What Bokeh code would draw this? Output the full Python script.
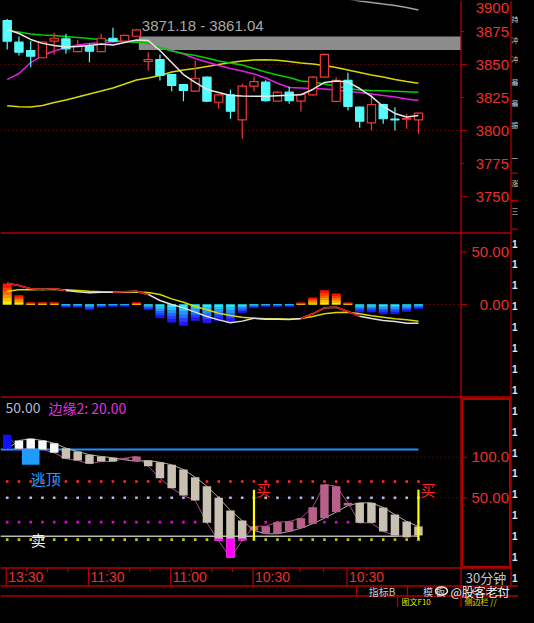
from bokeh.plotting import figure
from bokeh.models import Range1d, GlobalInlineStyleSheet
from bokeh.core.properties import value
from bokeh.embed import file_html
from bokeh.resources import INLINE

# ---------------- data ----------------
bar_open = [3883.3, 3866.9, 3860.6, 3855.1, 3867.7, 3869.5, 3859.8, 3863.9, 3859.8, 3869.9,
            3867.7, 3871.4, 3852.3, 3853.8, 3842.4, 3834.8, 3829.8, 3840.4, 3821.4, 3827.0,
            3808.1, 3833.6, 3836.6, 3822.2, 3829.0, 3822.2, 3827.0, 3840.4, 3822.0, 3837.9,
            3817.7, 3805.8, 3819.7, 3808.6, 3808.6, 3808.1]
bar_close = [3867.7, 3859.3, 3856.3, 3866.9, 3869.9, 3861.9, 3863.9, 3860.1, 3869.9, 3867.7,
             3872.0, 3876.3, 3853.8, 3841.7, 3834.1, 3830.3, 3839.6, 3822.2, 3827.0, 3814.6,
             3833.6, 3837.1, 3822.7, 3829.0, 3822.7, 3827.3, 3840.4, 3857.6, 3837.9, 3818.2,
             3807.0, 3819.7, 3808.9, 3808.1, 3809.2, 3813.1]
bar_high = [3884.5, 3871.2, 3867.7, 3867.3, 3874.0, 3873.3, 3868.7, 3865.7, 3873.3, 3877.8,
            3872.5, 3876.8, 3859.3, 3857.6, 3843.0, 3835.3, 3853.0, 3841.0, 3827.6, 3831.0,
            3835.4, 3840.9, 3838.0, 3829.5, 3833.3, 3827.8, 3841.0, 3858.2, 3840.4, 3843.7,
            3818.2, 3827.3, 3820.2, 3817.7, 3812.7, 3813.6]
bar_low = [3861.4, 3856.8, 3848.0, 3854.5, 3857.6, 3858.1, 3859.5, 3851.7, 3859.5, 3866.9,
           3867.3, 3871.0, 3845.5, 3837.9, 3829.8, 3822.2, 3829.3, 3821.5, 3816.4, 3808.9,
           3793.7, 3829.5, 3821.8, 3821.5, 3820.2, 3814.4, 3826.5, 3840.0, 3821.4, 3815.2,
           3802.0, 3800.0, 3805.1, 3800.0, 3801.3, 3797.5]

ma_white = [3876.5, 3873.5, 3869.0, 3866.0, 3864.4, 3863.3, 3863.6, 3864.4, 3865.5, 3864.8,
            3866.7, 3868.6, 3868.2, 3860.6, 3851.5, 3842.4, 3836.4, 3831.1, 3828.8, 3826.5,
            3826.1, 3826.0, 3826.0, 3826.4, 3826.7, 3827.1, 3831.1, 3836.4, 3837.5, 3836.7,
            3831.8, 3825.8, 3818.2, 3812.9, 3810.2, 3811.4]
ma_green = [3875.8, 3874.6, 3873.1, 3872.3, 3872.0, 3871.2, 3870.5, 3869.7, 3868.7, 3868.0,
            3867.4, 3866.9, 3866.4, 3862.9, 3860.2, 3858.3, 3856.8, 3854.9, 3852.7, 3851.1,
            3849.6, 3847.0, 3844.3, 3842.0, 3840.2, 3837.5, 3836.7, 3835.2, 3833.7, 3831.8,
            3830.7, 3830.3, 3830.1, 3829.8, 3829.4, 3829.0]
ma_magenta = [3838.6, 3843.2, 3851.5, 3856.8, 3860.2, 3862.9, 3864.8, 3865.9, 3866.5, 3867.3,
              3867.6, 3867.4, 3865.9, 3862.9, 3860.6, 3858.0, 3854.5, 3851.9, 3849.2, 3847.0,
              3845.1, 3842.8, 3839.8, 3835.8, 3832.6, 3832.2, 3831.8, 3831.4, 3830.7, 3829.5,
              3828.8, 3827.7, 3826.5, 3825.4, 3823.9, 3822.7]
ma_yellow = [3818.7, 3818.0, 3817.8, 3818.9, 3821.2, 3823.1, 3825.4, 3827.7, 3829.9, 3832.2,
             3835.2, 3838.3, 3839.8, 3841.7, 3844.3, 3845.8, 3847.0, 3848.5, 3850.0, 3851.5,
             3852.7, 3853.4, 3853.6, 3853.2, 3852.3, 3851.1, 3850.4, 3849.2, 3847.7, 3845.8,
             3843.9, 3842.0, 3840.5, 3838.6, 3837.1, 3835.8]
ma_gray_idx = [28, 29, 30, 31, 32, 33, 34, 35]
ma_gray = [3901.0, 3899.6, 3898.1, 3897.0, 3895.8, 3894.7, 3893.2, 3891.3]

zone_start = 11.2
zone_top = 3871.18
zone_bottom = 3861.04
zone_label = "3871.18 - 3861.04"

price_ticks = [3900, 3875, 3850, 3825, 3800, 3775, 3750]
price_tick_labels = ["3900", "3875", "3850", "3825", "3800", "3775", "3750"]
price_grid = [3850, 3800]

macd_hist = [19.8, 8.6, 1.6, 1.6, 1.6, -2.6, -2.6, -5.1, -2.6, -1.9, -1.6, 1.6, -5.1, -12.7,
             -16.9, -20.1, -15.3, -17.5, -15.3, -16.3, -8.0, -3.2, -1.9, -1.9, -1.9, 1.5, 6.4,
             13.4, 10.2, 1.5, -7.3, -7.3, -8.9, -8.9, -6.7, -4.1]
macd_dif = [20.4, 18.2, 15.0, 14.3, 15.0, 13.4, 12.1, 11.2, 11.8, 11.8, 12.1, 12.7, 9.6, 3.8,
            0.0, -3.2, -7.3, -11.5, -14.7, -17.5, -15.9, -13.1, -14.0, -14.0, -14.3, -13.4,
            -8.9, -3.2, -2.6, -6.7, -11.2, -13.4, -15.3, -16.3, -17.9, -17.9]
macd_dea = [12.7, 14.0, 14.0, 14.3, 14.3, 14.0, 13.4, 12.7, 12.1, 11.8, 11.8, 11.8, 11.5, 9.6,
            5.4, 2.2, -1.9, -5.1, -8.3, -10.5, -12.1, -13.1, -13.7, -13.7, -14.0, -13.4,
            -11.5, -8.9, -7.6, -7.3, -8.9, -10.8, -12.1, -13.7, -14.6, -15.9]
macd_ticks = [50, 0]
macd_tick_labels = ["50.00", "0.00"]

ind_open = [110.3, 120.6, 122.7, 120.6, 117.2, 111.1, 107.0, 103.0, 100.9, 99.3, 96.8, 95.1,
            95.9, 93.8, 90.6, 84.9, 75.4, 64.3, 50.0, 34.4, 22.0, 9.8, 5.7, 5.7, 8.5, 12.6,
            18.0, 24.9, 32.3, 40.5, 43.8, 43.8, 38.0, 29.4, 20.8, 14.7]
ind_close = [127.6, 110.3, 110.3, 109.5, 105.4, 98.0, 96.0, 91.9, 94.7, 94.7, 98.8, 100.9,
             88.9, 74.1, 61.8, 52.8, 46.7, 19.2, -3.0, -23.9, -2.5, 15.0, 15.0, 20.0, 20.8,
             24.9, 38.4, 66.4, 64.3, 43.8, 19.2, 19.2, 8.5, 3.6, 1.5, 3.6]
ind_line_level = 109.5
ind_base_level = 2.5
ind_ticks = [100, 50]
ind_tick_labels = ["100.0", "50.00"]
ind_dotted_levels = [100, 50]
ind_dot_levels = [70, 50, 20, -1.5]
ind_title_values = ["50.00", "边缘2: 20.00"]
buy_idx = [21, 35]
buy_range = [-1.5, 60.0]
sell_idx = [2]
sell_level = -1.5
escape_idx = [2]
escape_range = [90.6, 110.3]

time_tick_idx = [0, 7, 14, 21, 29]
time_labels = ["13:30", "11:30", "11:00", "10:30", "10:30"]
time_minor_idx = [1.75, 3.5, 5.25, 8.75, 10.5, 12.25, 15.75, 17.5, 19.25, 25, 27]
period_label = "30分钟"
tab_labels = ["指标B", "模 板", "+", "二"]
bottom_labels = ["图文F10", "侧边栏 //"]
watermark = "@股客老付"
side_chars = ["持", "冲", "冲", "最", "最", "振", "一", "涨", "三"]

# ---------------- layout (figure pixels, 1:1 with the reference) ----------------
FW, FH = 518, 607
X0, PITCH = 6.7, 11.75          # centre of first bar, bar pitch
AXIS_X = 460.5                  # right edge of the chart panels
COL_X = 510.5                   # narrow side column
LAB_X = 508.5                   # right edge of axis labels
P_Y0, P_K = 64.0, 1.32          # price: 3850 at y=64
M_Y0, M_K = 304.0, 1.046        # macd: 0 at y=304
I_Y0, I_K = 537.9, 0.812        # indicator: 0 at y=537.9
TROW = (567.5, 585.5)           # time row
TABROW = (585.5, 595.5)
LASTROW = (595.5, FH)

def cx(px):
    return (px - X0) / PITCH

def price_y(v):
    return P_Y0 + (3850 - v) * P_K

BORDER = "#b00000"
AXT = "#e8302c"
UPC = "#f03838"
DNC = "#54fcfc"
NUM = value("Liberation Sans")
CJK = value("Noto Sans CJK SC")

p = figure(width=FW, height=FH, x_range=Range1d(cx(0), cx(FW)), y_range=Range1d(FH, 0),
           output_backend="svg", toolbar_location=None, tools="", min_border=0,
           x_axis_location=None, y_axis_location=None,
           background_fill_color="black", border_fill_color="black", outline_line_color=None)
p.extra_x_ranges = {"px": Range1d(0, FW)}
p.extra_y_ranges = {
    "price": Range1d(3850 - (FH - P_Y0) / P_K, 3850 + P_Y0 / P_K),
    "macd": Range1d((M_Y0 - FH) / M_K, M_Y0 / M_K),
    "ind": Range1d((I_Y0 - FH) / I_K, I_Y0 / I_K),
}
p.xgrid.visible = False
p.ygrid.visible = False
p.stylesheets = [GlobalInlineStyleSheet(css="html, body { background-color: #000000; }")]

idx = list(range(len(bar_open)))
last = idx[-1]

# ================= price panel =================
p.segment(x0=[0] * len(price_grid), x1=[AXIS_X] * len(price_grid), y0=price_grid, y1=price_grid,
          x_range_name="px", y_range_name="price", line_color="#a00000", line_width=1,
          line_dash="1 3")
p.quad(left=[zone_start], right=[cx(AXIS_X)], top=[zone_top], bottom=[zone_bottom],
       y_range_name="price", fill_color="#8c8c8c", line_color=None)
p.text(x=[zone_start], y=[zone_top], text=[zone_label], y_range_name="price",
       x_offset=3, y_offset=-3, text_align="left", text_baseline="bottom",
       text_color="#a8a8a8", text_font=NUM, text_font_size="15px")

p.line(ma_gray_idx, ma_gray, y_range_name="price", line_color="#a0a0a0", line_width=1.5)
p.line(idx, ma_yellow, y_range_name="price", line_color="#d8d800", line_width=1.5)
p.line(idx, ma_magenta, y_range_name="price", line_color="#e020e0", line_width=1.5)
p.line(idx, ma_green, y_range_name="price", line_color="#00d000", line_width=1.5)

up = [c >= o for o, c in zip(bar_open, bar_close)]
for flag, col in ((True, UPC), (False, DNC)):
    sel = [i for i in idx if up[i] == flag]
    btop = [max(bar_open[i], bar_close[i]) for i in sel]
    bbot = [min(bar_open[i], bar_close[i]) for i in sel]
    p.segment(x0=sel, x1=sel, y0=[bar_high[i] for i in sel], y1=btop, y_range_name="price",
              line_color=col, line_width=1.2)
    p.segment(x0=sel, x1=sel, y0=bbot, y1=[bar_low[i] for i in sel], y_range_name="price",
              line_color=col, line_width=1.2)
    p.vbar(x=sel, top=btop, bottom=bbot, width=0.7, y_range_name="price",
           fill_color="black" if flag else col, line_color=col, line_width=1.2)

p.line(idx, ma_white, y_range_name="price", line_color="#e8e8e8", line_width=1.5)

tick_len = [6 if t % 50 == 0 else 3 for t in price_ticks]
p.segment(x0=[AXIS_X] * len(price_ticks), x1=[AXIS_X + l for l in tick_len],
          y0=price_ticks, y1=price_ticks, x_range_name="px", y_range_name="price",
          line_color=BORDER, line_width=1.2)
label_y = [max(price_y(t), 7.0) for t in price_ticks]
p.text(x=[LAB_X] * len(price_ticks), y=label_y, text=price_tick_labels,
       x_range_name="px", text_align="right", text_baseline="middle",
       text_color=AXT, text_font=NUM, text_font_size="15px")

# ================= MACD panel =================
def lerp(c0, c1, t):
    return "#%02x%02x%02x" % tuple(int(round(a + (b - a) * t)) for a, b in zip(c0, c1))

NS = 6
hx, hb, ht, hc = [], [], [], []
for i, v in enumerate(macd_hist):
    c0, c1 = ((255, 255, 0), (255, 0, 0)) if v > 0 else ((40, 255, 255), (40, 0, 255))
    for k in range(NS):
        hx.append(i)
        hb.append(v * k / NS)
        ht.append(v * (k + 1) / NS)
        hc.append(lerp(c0, c1, (k + 0.5) / NS))
p.vbar(x=hx, bottom=hb, top=ht, width=0.72, y_range_name="macd", fill_color=hc,
       line_color=hc, line_width=0.5)
p.segment(x0=[last + 0.6], x1=[cx(AXIS_X)], y0=[0], y1=[0], y_range_name="macd",
          line_color="#a00000", line_width=1, line_dash="1 3")
p.line(idx, macd_dea, y_range_name="macd", line_color="#d8d800", line_width=1.5)
p.line(idx, macd_dif, y_range_name="macd", line_color="#e0e0e0", line_width=1.5)
rx0, rx1, ry0, ry1 = [], [], [], []
for i in range(len(macd_dif) - 1):
    if macd_dif[i] > macd_dea[i] or macd_dif[i + 1] > macd_dea[i + 1]:
        rx0.append(i); rx1.append(i + 1); ry0.append(macd_dif[i]); ry1.append(macd_dif[i + 1])
p.segment(x0=rx0, x1=rx1, y0=ry0, y1=ry1, y_range_name="macd", line_color="#e00000",
          line_width=1.5)
p.segment(x0=[AXIS_X] * len(macd_ticks), x1=[AXIS_X + 6] * len(macd_ticks), y0=macd_ticks,
          y1=macd_ticks, x_range_name="px", y_range_name="macd", line_color=BORDER, line_width=1.2)
p.text(x=[LAB_X] * len(macd_ticks), y=macd_ticks, text=macd_tick_labels, x_range_name="px",
       y_range_name="macd", text_align="right", text_baseline="middle", text_color=AXT,
       text_font=NUM, text_font_size="15px")

# ================= indicator panel =================
n_lv = len(ind_dotted_levels)
p.segment(x0=[0] * n_lv, x1=[AXIS_X] * n_lv, y0=ind_dotted_levels, y1=ind_dotted_levels,
          x_range_name="px", y_range_name="ind", line_color="#a00000", line_width=1,
          line_dash="1 3")
dot_cols = ["#ff2828", "#b4b4e8", "#e000e0", "#c8c800"]
for lv, dc in zip(ind_dot_levels, dot_cols):
    p.scatter(x=idx, y=[lv] * len(idx), y_range_name="ind", marker="square", size=2.6,
              fill_color=dc, line_color=None)
p.segment(x0=[cx(0)], x1=[last], y0=[ind_line_level], y1=[ind_line_level], y_range_name="ind",
          line_color="#1e90ff", line_width=2)
p.segment(x0=[cx(0)], x1=[last], y0=[ind_base_level], y1=[ind_base_level], y_range_name="ind",
          line_color="#b8b8b8", line_width=1.5)
p.line(idx, ind_open, y_range_name="ind", line_color="#b0aca0", line_width=1)
p.line(idx, ind_close, y_range_name="ind", line_color="#a05088", line_width=1)

bx, bt, bb, bc = [], [], [], []
mx, mt, mb = [], [], []
for i, (o, c) in enumerate(zip(ind_open, ind_close)):
    lo, hi = min(o, c), max(o, c)
    rising = c > o
    if (o + c) / 2 > ind_line_level:
        col = "#1010ff" if rising else "#f8f8f8"
    else:
        col = "#b8608c" if rising else "#c8c0b0"
    bx.append(i); bt.append(hi); bb.append(lo); bc.append(col)
    if lo < 0:
        mx.append(i); mt.append(min(hi, 0)); mb.append(lo)
p.vbar(x=bx, top=bt, bottom=bb, width=0.72, y_range_name="ind", fill_color=bc, line_color=None)
p.vbar(x=mx, top=mt, bottom=mb, width=0.72, y_range_name="ind", fill_color="#ff00ff",
       line_color=None)
p.vbar(x=escape_idx, top=[escape_range[1]] * len(escape_idx),
       bottom=[escape_range[0]] * len(escape_idx), width=1.5, y_range_name="ind",
       fill_color="#1e9cff", line_color=None)
p.text(x=escape_idx, y=[escape_range[0]] * len(escape_idx), text=["逃顶"] * len(escape_idx),
       y_range_name="ind", y_offset=3, text_align="left", text_baseline="top",
       text_color="#1e9cff", text_font=CJK, text_font_size="15px")
p.text(x=sell_idx, y=[sell_level] * len(sell_idx), text=["卖"] * len(sell_idx),
       y_range_name="ind", text_align="left", text_baseline="middle",
       text_color="#f0f0f0", text_font=CJK, text_font_size="15px")
p.segment(x0=buy_idx, x1=buy_idx, y0=[buy_range[0]] * len(buy_idx),
          y1=[buy_range[1]] * len(buy_idx), y_range_name="ind", line_color="#ffff00",
          line_width=2.2)
p.text(x=buy_idx, y=[buy_range[1]] * len(buy_idx), text=["买"] * len(buy_idx),
       y_range_name="ind", x_offset=2, text_align="left", text_baseline="middle",
       text_color="#ff2020", text_font=CJK, text_font_size="15px")
p.text(x=[5, 48], y=[407, 407], text=ind_title_values, x_range_name="px",
       text_align="left", text_baseline="middle", text_color=["#b4b4d8", "#e030e0"],
       text_font=CJK, text_font_size="14px")
p.segment(x0=[AXIS_X] * len(ind_ticks), x1=[AXIS_X + 6] * len(ind_ticks), y0=ind_ticks,
          y1=ind_ticks, x_range_name="px", y_range_name="ind", line_color=BORDER, line_width=1.2)
p.text(x=[LAB_X] * len(ind_ticks), y=ind_ticks, text=ind_tick_labels, x_range_name="px",
       y_range_name="ind", text_align="right", text_baseline="middle", text_color=AXT,
       text_font=NUM, text_font_size="15px")

# ================= frame / borders =================
hl = [(0, COL_X, 232.5), (0, COL_X, 396.5), (0, COL_X, TROW[0]), (0, FW, TABROW[0]),
      (0, FW, LASTROW[0])]
p.segment(x0=[a for a, b, y in hl], x1=[b for a, b, y in hl], y0=[y for a, b, y in hl],
          y1=[y for a, b, y in hl], x_range_name="px", line_color=BORDER, line_width=1.3)
vl = [(AXIS_X, 0, TABROW[1]), (COL_X, 0, TABROW[0]), (356, TABROW[0], TABROW[1]),
      (407, TABROW[0], TABROW[1]), (486, TABROW[0], TABROW[1]), (397, LASTROW[0], FH),
      (AXIS_X, LASTROW[0], FH)]
p.segment(x0=[v[0] for v in vl], x1=[v[0] for v in vl], y0=[v[1] for v in vl],
          y1=[v[2] for v in vl], x_range_name="px", line_color=BORDER, line_width=1.3)
box_y = [172.7, 200, 228.7]
p.segment(x0=[COL_X] * 3, x1=[FW] * 3, y0=box_y, y1=box_y,
          x_range_name="px", line_color=BORDER, line_width=1.3)
p.quad(left=[461.5], right=[509.5], top=[398.5], bottom=[566.5], x_range_name="px",
       fill_color=None, line_color=BORDER, line_width=2)

# time row
tsep = [t - 0.08 for t in time_tick_idx]
p.segment(x0=tsep, x1=tsep, y0=[TROW[0]] * len(tsep), y1=[TROW[1]] * len(tsep),
          line_color=BORDER, line_width=1.3)
tmin = [t - 0.08 for t in time_minor_idx]
p.segment(x0=tmin, x1=tmin, y0=[TROW[0]] * len(tmin), y1=[TROW[0] + 4] * len(tmin),
          line_color=BORDER, line_width=1.2)
tmid = (TROW[0] + TROW[1]) / 2
p.text(x=tsep, y=[tmid] * len(tsep), text=time_labels, x_offset=2, text_align="left",
       text_baseline="middle", text_color=AXT, text_font=NUM, text_font_size="14px")
p.text(x=[(AXIS_X + COL_X) / 2], y=[tmid], text=[period_label], x_range_name="px",
       text_align="center", text_baseline="middle", text_color="#c4c4c4", text_font=CJK,
       text_font_size="13px")

# tabs row
tabmid = (TABROW[0] + TABROW[1]) / 2
p.text(x=[381.5, 433.7, 473, 500], y=[tabmid] * 4, text=tab_labels, x_range_name="px",
       text_align="center", text_baseline="middle", text_color="#c8c8c8", text_font=CJK,
       text_font_size="10px")
p.ellipse(x=[441], y=[tabmid], width=12, height=8, x_range_name="px", fill_color=None,
          line_color="#e8e8e8", line_width=1.5)
p.text(x=[450], y=[tabmid], text=[watermark], x_range_name="px", text_align="left",
       text_baseline="middle", text_color="#f4f4f4", text_font=CJK, text_font_size="12px")

# last row
lastmid = (LASTROW[0] + LASTROW[1]) / 2 - 0.5
p.text(x=[401, 464], y=[lastmid, lastmid], text=bottom_labels, x_range_name="px",
       text_align="left", text_baseline="middle", text_color="#e0e000", text_font=CJK,
       text_font_size="8px")

# narrow side column
side_y = [18, 39, 58, 81, 102, 124, 157, 182, 210]
p.text(x=[COL_X + 0.5] * len(side_chars), y=side_y, text=side_chars, x_range_name="px",
       text_align="left", text_baseline="middle", text_color="#d0d0d0", text_font=CJK,
       text_font_size="7px")
ones_y = [243 + 20.9 * k for k in range(17)]
p.text(x=[COL_X + 1] * len(ones_y), y=ones_y, text=["1"] * len(ones_y), x_range_name="px",
       text_align="left", text_baseline="middle", text_color="#e8e8e8", text_font=NUM,
       text_font_size="10px", text_font_style="bold")

open("out.html", "w").write(file_html(p, INLINE))
